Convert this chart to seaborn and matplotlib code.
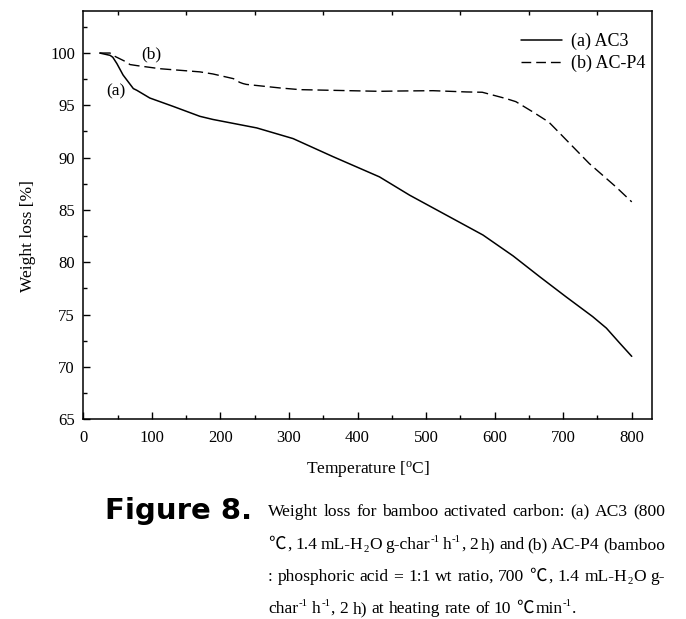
import re
import matplotlib
matplotlib.use("Agg")
import matplotlib.pyplot as plt
import seaborn as sns
import pandas as pd
from matplotlib.ticker import MultipleLocator

# ---- data ----
temp_ac3 = [24, 39, 43, 49, 58, 73, 78, 97, 131, 170, 189, 253, 306, 364,
            432, 476, 583, 627, 666, 704, 743, 763, 782, 800]
wt_ac3 = [100.0, 99.78, 99.6, 98.99, 97.9, 96.6, 96.44, 95.7, 94.9, 93.95,
          93.65, 92.84, 91.82, 90.1, 88.16, 86.41, 82.6, 80.6, 78.6, 76.7,
          74.8, 73.7, 72.3, 71.0]

temp_acp4 = [24, 39, 44, 63, 68, 78, 112, 170, 189, 219, 228, 233, 238, 287, 316,
             432, 461, 510, 559, 582, 617, 631, 656, 679, 694, 738, 777, 800]
wt_acp4 = [100.0, 100.0, 99.75, 99.14, 98.9, 98.8, 98.5, 98.2, 98.0, 97.55, 97.2,
           97.08, 97.0, 96.66, 96.5, 96.34, 96.37, 96.4, 96.28, 96.25, 95.64,
           95.35, 94.36, 93.4, 92.4, 89.44, 87.2, 85.77]

series_labels = ["(a) AC3", "(b) AC-P4"]
x_ticks = [0, 100, 200, 300, 400, 500, 600, 700, 800]
y_ticks = [65, 70, 75, 80, 85, 90, 95, 100]

caption_head = "Figure 8."
# ^{..} = superscript, _{..} = subscript
caption_lines = [
    "Weight loss for bamboo activated carbon: (a) AC3 (800",
    "\u2103, 1.4 mL-H_{2}O g-char^{-1} h^{-1}, 2 h) and (b) AC-P4 (bamboo",
    ": phosphoric acid = 1:1 wt ratio, 700 \u2103, 1.4 mL-H_{2}O g-",
    "char^{-1} h^{-1}, 2 h) at heating rate of 10 \u2103min^{-1}.",
]

# ---- style ----
sns.set_theme(style="ticks")
plt.rcParams["font.family"] = ["Liberation Serif", "DejaVu Serif"]
plt.rcParams["mathtext.fontset"] = "custom"
plt.rcParams["mathtext.rm"] = "Liberation Serif"
plt.rcParams["mathtext.it"] = "Liberation Serif:italic"
plt.rcParams["mathtext.bf"] = "Liberation Serif:bold"
plt.rcParams["axes.linewidth"] = 1.1
plt.rcParams["text.color"] = "black"
plt.rcParams["axes.labelcolor"] = "black"

fig = plt.figure(figsize=(6.86, 6.19), dpi=100)
W, H = 686, 619
ax = fig.add_axes([83.3 / W, 1 - 419.1 / H, (652.3 - 83.3) / W, (419.1 - 11.2) / H])

df_a = pd.DataFrame({"T": temp_ac3, "W": wt_ac3})
df_b = pd.DataFrame({"T": temp_acp4, "W": wt_acp4})
sns.lineplot(data=df_a, x="T", y="W", ax=ax, color="black", lw=1.1,
             sort=False, estimator=None, label=series_labels[0])
sns.lineplot(data=df_b, x="T", y="W", ax=ax, color="black", lw=1.0,
             sort=False, estimator=None, label=series_labels[1])
ax.lines[1].set_dashes([8, 3.5])

ax.set_xlim(0, 830)
ax.set_ylim(65, 104)
ax.set_xticks(x_ticks)
ax.set_yticks(y_ticks)
ax.xaxis.set_minor_locator(MultipleLocator(50))
ax.yaxis.set_minor_locator(MultipleLocator(2.5))
ax.tick_params(which="both", direction="in", width=1.0, labelsize=12, colors="black")
ax.tick_params(which="major", length=5, pad=8)
ax.tick_params(axis="y", which="major", pad=6)
ax.tick_params(which="minor", length=3)
ax.tick_params(axis="x", which="minor", top=True)
ax.tick_params(axis="x", which="major", top=False)
ax.tick_params(axis="y", which="both", right=False)
for s in ax.spines.values():
    s.set_visible(True)
    s.set_color("black")

ax.set_xlabel("Temperature [$^{\\rm o}$C]", fontsize=12.5, labelpad=9)
ax.set_ylabel("Weight loss [%]", fontsize=12.5)
ax.yaxis.set_label_coords((36 - 83.3) / 569, (419.1 - 236) / 408)

ax.text(99, 99.9, "(b)", fontsize=12.5, ha="center", va="center")
ax.text(48, 96.3, "(a)", fontsize=12.5, ha="center", va="center")

leg = ax.legend(loc="upper right", frameon=False, fontsize=13, handlelength=2.25,
                handletextpad=0.5, labelspacing=0.25, borderaxespad=0.0,
                bbox_to_anchor=(1.0, 0.964))
leg.get_lines()[1].set_dashes([7, 3.6])

# ---- caption ----
fig.text(105 / W, 1 - 519 / H, caption_head, fontsize=21, fontweight="bold",
         family="DejaVu Sans", ha="left", va="baseline", color="black")

renderer = fig.canvas.get_renderer()
fs = 12.6
px = 100 / 72
space_px = 0.25 * fs * px
pattern = re.compile(r"(\^\{[^}]*\}|_\{[^}]*\}|\u2103)")


def parse_word(word):
    runs = []
    for part in pattern.split(word):
        if not part:
            continue
        if part.startswith("^{"):
            runs.append((part[2:-1], "sup"))
        elif part.startswith("_{"):
            runs.append((part[2:-1], "sub"))
        elif part == "\u2103":
            runs.append((part, "deg"))
        else:
            runs.append((part, "n"))
    return runs


x_left, x_right = 268.0, 665.0
ys = [516, 549, 581, 613]
for li, (line, y) in enumerate(zip(caption_lines, ys)):
    words = line.split(" ")
    placed = []
    for word in words:
        items = []
        prev_kind = None
        for text, kind in parse_word(word):
            weight = "normal"
            if kind == "deg":
                fam, size, dy, weight = ["Noto Sans CJK SC"], fs, 0.0, "light"
            elif kind == "sup":
                fam, size, dy = ["Liberation Serif"], fs * 0.62, 0.40 * fs * px
            elif kind == "sub":
                fam, size, dy = ["Liberation Serif"], fs * 0.62, -0.16 * fs * px
            else:
                fam, size, dy = ["Liberation Serif", "DejaVu Serif"], fs, 0.0
            t = fig.text(0, 1 - y / H, text, fontsize=size, family=fam,
                         fontweight=weight, ha="left", va="baseline", color="black")
            w = t.get_window_extent(renderer=renderer).width
            if prev_kind is None:
                gap = 0.0
            elif kind == "deg" or prev_kind == "deg":
                gap = 2.0
            elif kind in ("sup", "sub") or prev_kind in ("sup", "sub"):
                gap = 0.4
            else:
                gap = 0.8
            items.append((t, w, gap, dy))
            prev_kind = kind
        placed.append(items)
    natural = sum(g + w for items in placed for (_, w, g, _) in items)
    n_spaces = len(placed) - 1
    sp = space_px
    if li < len(caption_lines) - 1 and n_spaces > 0:
        sp = (x_right - x_left - natural) / n_spaces
    x = x_left
    for wi, items in enumerate(placed):
        if wi > 0:
            x += sp
        for t, w, g, dy in items:
            x += g
            t.set_position((x / W, (H - y + dy) / H))
            x += w

fig.savefig("out.png", dpi=100)
